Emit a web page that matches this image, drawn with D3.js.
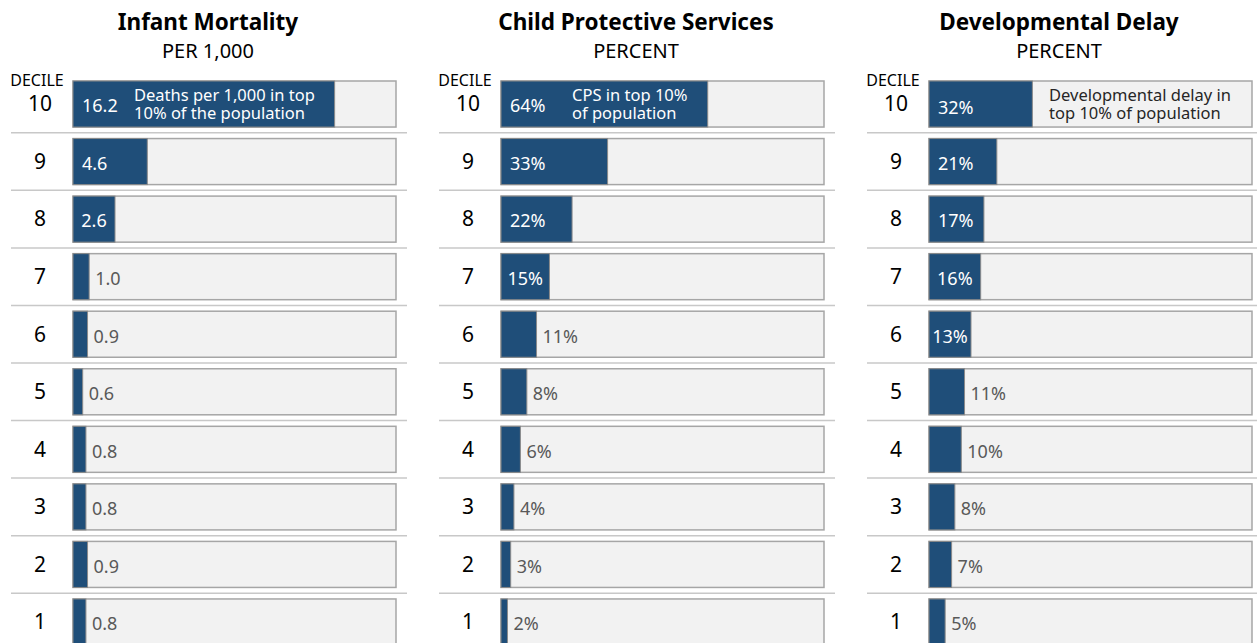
<!DOCTYPE html>
<html>
<head>
<meta charset="utf-8">
<script src="https://cdn.jsdelivr.net/npm/d3@7"></script>
<style>
  body { margin: 0; background: #fff; }
  text { font-family: "Noto Sans", "Open Sans", sans-serif; }
</style>
</head>
<body>
<svg id="chart" width="1257" height="643"></svg>
<script>
const deciles = [10, 9, 8, 7, 6, 5, 4, 3, 2, 1];
const infantValues = [16.2, 4.6, 2.6, 1.0, 0.9, 0.6, 0.8, 0.8, 0.9, 0.8];
const cpsValues = [64, 33, 22, 15, 11, 8, 6, 4, 3, 2];
const delayValues = [32, 21, 17, 16, 13, 11, 10, 8, 7, 5];

const panelTitles = ["Infant Mortality", "Child Protective Services", "Developmental Delay"];
const panelUnits = ["PER 1,000", "PERCENT", "PERCENT"];
const panelMax = [20, 100, 100];
const topNotes = [
  ["Deaths per 1,000 in top", "10% of the population"],
  ["CPS in top 10%", "of population"],
  ["Developmental delay in", "top 10% of population"]
];

const panels = [
  { values: infantValues, fmt: d3.format(".1f"), noteX: 61, titleX: 208, topDy: 2 },
  { values: cpsValues, fmt: (d) => `${d}%`, noteX: 71, titleX: 208, topDy: 2 },
  { values: delayValues, fmt: (d) => `${d}%`, noteX: 120, titleX: 203, topDy: 4 }
];

const svg = d3.select("#chart");
const blue = "#1f4e79";
const panelStep = 428;
const boxLeft = 73, boxWidth = 323;

// rows: top of decile 10 box at 81, bottom of decile 1 at 645
const y = d3.scaleBand().domain(deciles).range([81, 645]).paddingInner(0.2);

panels.forEach((panel, i) => {
  const g = svg.append("g").attr("transform", `translate(${i * panelStep},0)`);
  const x = d3.scaleLinear().domain([0, panelMax[i]]).range([boxLeft, boxLeft + boxWidth]);

  g.append("text")
   .attr("x", panel.titleX).attr("y", 30)
   .attr("text-anchor", "middle")
   .style("font-size", "22.5px").style("font-weight", "bold").style("fill", "#000")
   .text(panelTitles[i]);

  g.append("text")
   .attr("x", panel.titleX).attr("y", 58)
   .attr("text-anchor", "middle")
   .style("font-size", "20px").style("fill", "#000")
   .text(panelUnits[i]);

  g.append("text")
   .attr("x", 37).attr("y", 86)
   .attr("text-anchor", "middle")
   .style("font-size", "16px").style("fill", "#000")
   .text("DECILE");

  // separators between rows
  g.selectAll(".sep")
   .data(deciles.slice(1))
   .enter().append("line")
   .attr("class", "sep")
   .attr("x1", 11).attr("x2", 407)
   .attr("y1", (d) => y(d) - (y.step() - y.bandwidth()) / 2)
   .attr("y2", (d) => y(d) - (y.step() - y.bandwidth()) / 2)
   .style("stroke", "#c8c8c8").style("stroke-width", 1.5);

  const rows = g.selectAll(".row")
    .data(deciles.map((d, j) => ({ decile: d, value: panel.values[j] })))
    .enter().append("g")
    .attr("class", "row");

  rows.append("text")
      .attr("x", 40)
      .attr("y", (d) => y(d.decile) + y.bandwidth() / 2)
      .attr("dy", "0.35em")
      .attr("text-anchor", "middle")
      .style("font-size", "21px").style("fill", "#000")
      .text((d) => d.decile);

  rows.append("rect")
      .attr("x", x(0)).attr("width", x(panelMax[i]) - x(0))
      .attr("y", (d) => y(d.decile)).attr("height", y.bandwidth())
      .style("fill", "#f2f2f2").style("stroke", "#a6a6a6").style("stroke-width", 1.5);

  rows.append("rect")
      .attr("x", x(0)).attr("width", (d) => x(d.value) - x(0))
      .attr("y", (d) => y(d.decile)).attr("height", y.bandwidth())
      .style("fill", blue).style("stroke", "#8a8a8a").style("stroke-width", 1);

  rows.each(function(d, j) {
    const row = d3.select(this);
    const barW = x(d.value) - x(0);
    const label = row.append("text")
      .attr("y", y(d.decile) + y.bandwidth() / 2 + (j === 0 ? panel.topDy : 2))
      .attr("dy", "0.35em")
      .style("font-size", "18px")
      .text(panel.fmt(d.value));
    const tw = label.node().getComputedTextLength();
    if (barW >= 40) {
      const pad = Math.max(1, Math.min(9, (barW - tw) / 2));
      label.attr("x", x(0) + pad).style("fill", "#fff");
    } else {
      label.attr("x", x(d.value) + 6).style("fill", "#595959");
    }
  });

  // note in the top decile row
  const top = y(deciles[0]);
  const noteFill = i === 2 ? "#262626" : "#fff";
  g.append("text")
   .attr("x", boxLeft + panel.noteX)
   .attr("y", top + 20)
   .style("font-size", "16.5px").style("fill", noteFill)
   .selectAll("tspan")
   .data(topNotes[i])
   .enter().append("tspan")
   .attr("x", boxLeft + panel.noteX)
   .attr("dy", (d, k) => k === 0 ? 0 : 17.6)
   .text((d) => d);
});
</script>
</body>
</html>
